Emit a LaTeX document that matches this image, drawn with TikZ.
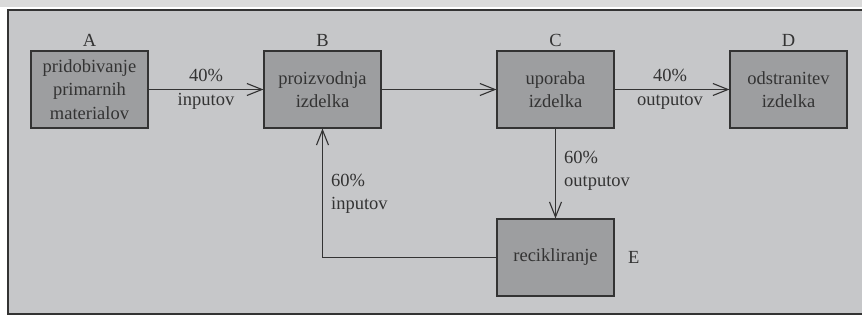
\documentclass[tikz,border=0pt]{standalone}
\usepackage{fontspec}
\setmainfont{Liberation Serif}
\usetikzlibrary{arrows.meta}
\definecolor{panel}{HTML}{C6C7C9}
\definecolor{boxfill}{HTML}{9D9EA0}
\definecolor{ink}{HTML}{333333}
\definecolor{strip}{HTML}{DADADA}
\tikzset{
  stage/.style={draw=ink, line width=1.2pt, fill=boxfill, minimum width=117pt,
    minimum height=77pt, inner sep=0pt, align=center, text=ink,
    font=\fontsize{18.5}{23.5}\selectfont},
  tag/.style={text=ink, inner sep=0pt, font=\fontsize{18.5}{23.5}\selectfont},
  flowlabel/.style={text=ink, inner sep=0pt, align=center,
    font=\fontsize{18.5}{23.5}\selectfont},
  flow/.style={draw=ink, line width=1.1pt,
    -{Straight Barb[length=15pt,width=12pt,line width=1.1pt]}},
}
\begin{document}
\begin{tikzpicture}[x=1pt, y=-1pt]
  \useasboundingbox (0,0) rectangle (862,320);
  \fill[white] (0,0) rectangle (862,320);
  \fill[strip] (0,0) rectangle (862,7);
  % outer panel (its right side runs past the page edge)
  \draw[ink, line width=1.6pt, fill=panel] (8,10) rectangle (880,314);

  % process stages
  \node[stage] (A) at (89.5,89.5) {pridobivanje\\primarnih\\materialov};
  \node[stage] (B) at (322.5,89.5) {proizvodnja\\izdelka};
  \node[stage] (C) at (555.5,89.5) {uporaba\\izdelka};
  \node[stage] (D) at (788.5,89.5) {odstranitev\\izdelka};
  \node[stage] (E) at (555.5,257.5) {recikliranje};

  % stage letters
  \node[tag, anchor=base] (tA) at (89.5,47) {A};
  \node[tag, anchor=base] (tB) at (322.5,47) {B};
  \node[tag, anchor=base] (tC) at (555.5,47) {C};
  \node[tag, anchor=base] (tD) at (788.5,47) {D};
  \node[tag, anchor=west] (tE) at (628,257.5) {E};

  % material flows
  \draw[flow] (A.east) -- (B.west);
  \draw[flow] (B.east) -- (C.west);
  \draw[flow] (C.east) -- (D.west);
  \draw[flow] (C.south) -- (E.north);
  \draw[flow] (E.west) -| (B.south);

  % flow shares
  \node[flowlabel] (lAB) at (206,89.5) {40\%\\inputov};
  \node[flowlabel] (lCD) at (670,89.5) {40\%\\outputov};
  \node[flowlabel, anchor=west, align=left] (lCE) at (564,171) {60\%\\outputov};
  \node[flowlabel, anchor=west, align=left] (lEB) at (331,194) {60\%\\inputov};
\end{tikzpicture}
\end{document}
